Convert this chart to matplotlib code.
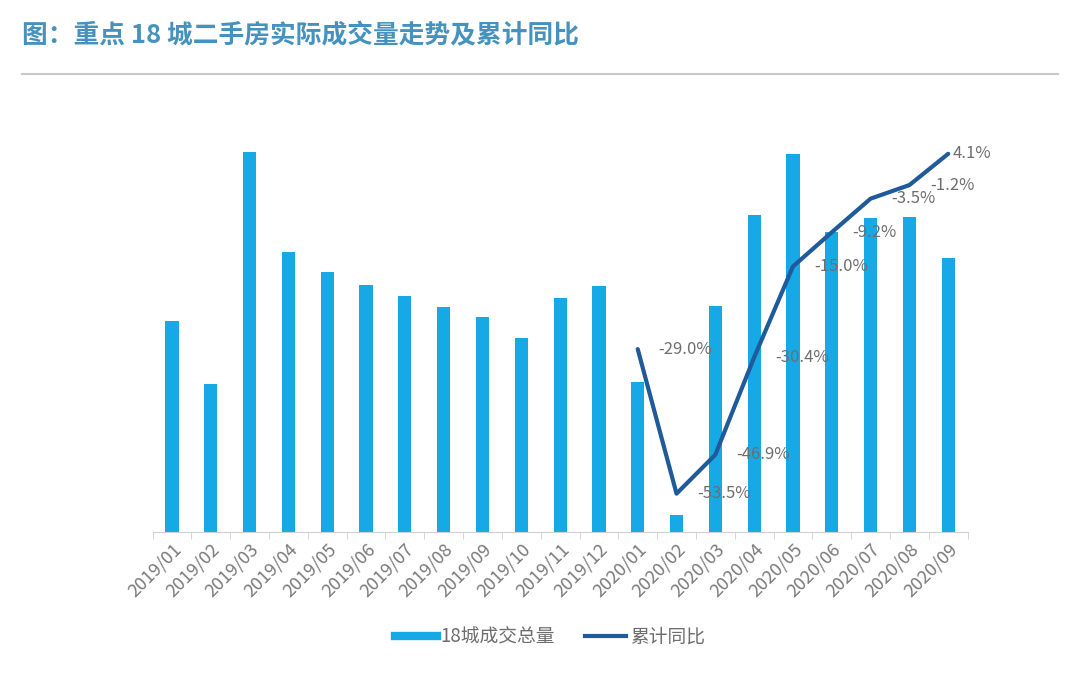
import matplotlib
matplotlib.use('Agg')
import matplotlib.pyplot as plt
from matplotlib.lines import Line2D
import numpy as np

plt.rcParams['font.family'] = ['Noto Sans CJK SC', 'DejaVu Sans']

# Monthly transaction volume of 18 key cities (arbitrary units)
months = ['2019/01', '2019/02', '2019/03', '2019/04', '2019/05', '2019/06',
          '2019/07', '2019/08', '2019/09', '2019/10', '2019/11', '2019/12',
          '2020/01', '2020/02', '2020/03', '2020/04', '2020/05', '2020/06',
          '2020/07', '2020/08', '2020/09']
volume = [21.1, 14.8, 38.0, 28.0, 26.0, 24.7, 23.6, 22.5, 21.5, 19.4, 23.4, 24.6,
          15.0, 1.7, 22.6, 31.7, 37.8, 30.0, 31.4, 31.5, 27.4]

# Cumulative year-on-year change, 2020 only
yoy_months = ['2020/01', '2020/02', '2020/03', '2020/04', '2020/05',
              '2020/06', '2020/07', '2020/08', '2020/09']
yoy = [-29.0, -53.5, -46.9, -30.4, -15.0, -9.2, -3.5, -1.2, 4.1]

bar_color = '#17A9E6'
line_color = '#1F5A9A'
text_gray = '#6E6E6E'

fig = plt.figure(figsize=(10.8, 6.75), dpi=100)

# title and separator line
fig.text(22 / 1080, 1 - 36 / 675, '图：重点 18 城二手房实际成交量走势及累计同比',
         fontsize=18.5, color='#4592BE', weight='bold', va='center', ha='left')
fig.add_artist(Line2D([22 / 1080, 1058 / 1080], [1 - 74 / 675, 1 - 74 / 675],
                      color='#C8C8C8', lw=1.5))

ax = fig.add_axes([152.6 / 1080, 143 / 675, 815 / 1080, 413 / 675])
x = np.arange(len(months))
ax.bar(x, volume, width=0.34, color=bar_color, zorder=2)
ax.set_xlim(-0.5, len(months) - 0.5)
ax.set_ylim(0, 41.3)

for side in ['left', 'right', 'top']:
    ax.spines[side].set_visible(False)
ax.spines['bottom'].set_color('#D0D0D0')
ax.set_yticks([])
ax.set_xticks(x)
ax.set_xticklabels(months, rotation=45, ha='right', rotation_mode='anchor',
                   fontsize=13, color='#7A7A7A')
ax.tick_params(axis='x', which='major', length=0, pad=6)
ax.set_xticks(np.arange(-0.5, len(months)), minor=True)
ax.tick_params(axis='x', which='minor', length=5, color='#D0D0D0', direction='out')

ax2 = ax.twinx()
ax2.set_ylim(-60, 10)
ax2.set_yticks([])
for side in ['left', 'right', 'top', 'bottom']:
    ax2.spines[side].set_visible(False)

lx = [months.index(m) for m in yoy_months]
ax2.plot(lx, yoy, color=line_color, lw=3, solid_capstyle='round', zorder=3)
for i, (px, v) in enumerate(zip(lx, yoy)):
    off = 15 if i < len(yoy) - 1 else 3
    ax2.annotate(f'{v:.1f}%', (px, v), xytext=(off, 0), textcoords='offset points',
                 ha='left', va='center', fontsize=12, color=text_gray)

handles = [Line2D([], [], color=bar_color, lw=6),
           Line2D([], [], color=line_color, lw=3)]
fig.legend(handles, ['18城成交总量', '累计同比'], loc='center',
           bbox_to_anchor=(550 / 1080, 1 - 637 / 675), ncol=2, frameon=False,
           fontsize=13.5, labelcolor=text_gray, handlelength=2.2,
           handletextpad=0.2, columnspacing=1.6)

fig.savefig('out.png', dpi=100)
